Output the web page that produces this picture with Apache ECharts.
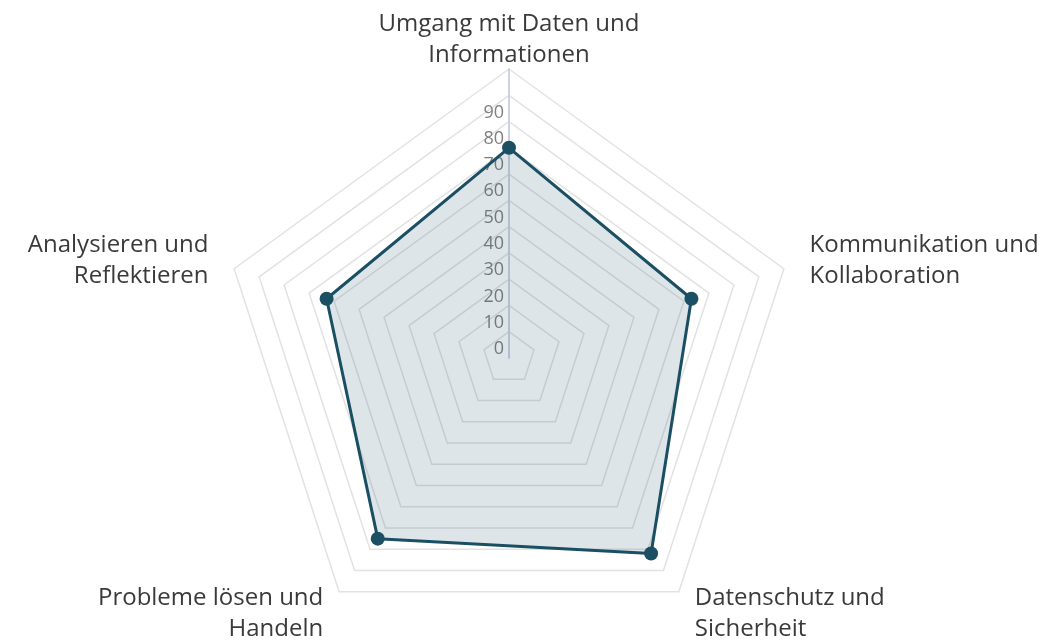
<!DOCTYPE html>
<html>
<head>
<meta charset="utf-8">
<script src="https://cdn.jsdelivr.net/npm/echarts@6/dist/echarts.min.js"></script>
<style>html,body{margin:0;padding:0;background:#fff;}#c{width:1059px;height:640px;}</style>
</head>
<body>
<div id="c"></div>
<script>
// clockwise from the top
const categories = [
  'Umgang mit Daten und\nInformationen',
  'Kommunikation und\nKollaboration',
  'Datenschutz und\nSicherheit',
  'Probleme lösen und\nHandeln',
  'Analysieren und\nReflektieren'
];
const values = [80, 73, 92, 85, 73];
const scaleMax = 110;
const tickStep = 10;
const labelMax = 90;

// ECharts radar runs counter-clockwise: reorder (top first, then the rest reversed)
const order = [0].concat(categories.map((_, i) => i).slice(1).reverse());
const catCCW = order.map(i => categories[i]);
const valCCW = order.map(i => values[i]);

const CENTER = [509, 358];
const RADIUS = 289;
const FONT = 'Open Sans';
const nameStyle = { color: '#3a3a3a', fontSize: 24, lineHeight: 31, fontFamily: FONT };

const chart = echarts.init(document.getElementById('c'));
chart.setOption({
  animation: false,
  radar: [{
    center: CENTER,
    radius: RADIUS,
    startAngle: 90,
    splitNumber: scaleMax / tickStep,
    shape: 'polygon',
    indicator: catCCW.map((n, i) => ({ name: i === 0 ? n : '', max: scaleMax, min: 0 })),
    axisName: nameStyle,
    nameGap: -2,
    axisLine: { show: false },
    splitLine: { lineStyle: { color: '#e2e2e2', width: 1.5 } },
    splitArea: { show: false },
    axisTick: { show: false },
    axisLabel: { show: false }
  }, {
    center: CENTER,
    radius: RADIUS,
    startAngle: 90,
    splitNumber: scaleMax / tickStep,
    shape: 'polygon',
    indicator: catCCW.map((n, i) => ({ name: i === 0 ? '' : n, max: scaleMax, min: 0 })),
    axisName: nameStyle,
    nameGap: 27,
    axisLine: { show: false },
    splitLine: { show: false },
    splitArea: { show: false },
    axisTick: { show: false },
    axisLabel: { show: false }
  }],
  polar: { center: CENTER, radius: RADIUS },
  angleAxis: { show: false, startAngle: 90, min: 0, max: 360 },
  radiusAxis: {
    min: 0, max: scaleMax, interval: tickStep,
    axisLine: { show: true, lineStyle: { color: '#c9d3e3', width: 2 } },
    axisTick: { show: false },
    splitLine: { show: false },
    axisLabel: {
      color: '#808080', fontSize: 18, fontFamily: FONT, margin: 5,
      verticalAlign: 'bottom',
      formatter: v => (v <= labelMax ? String(v) : '')
    }
  },
  series: [{
    type: 'radar',
    radarIndex: 0,
    symbol: 'circle',
    symbolSize: 14,
    lineStyle: { color: '#1b4f63', width: 3 },
    itemStyle: { color: '#1b4f63' },
    areaStyle: { color: 'rgba(27,79,99,0.21)' },
    data: [{ value: valCCW }]
  }]
});
</script>
</body>
</html>
